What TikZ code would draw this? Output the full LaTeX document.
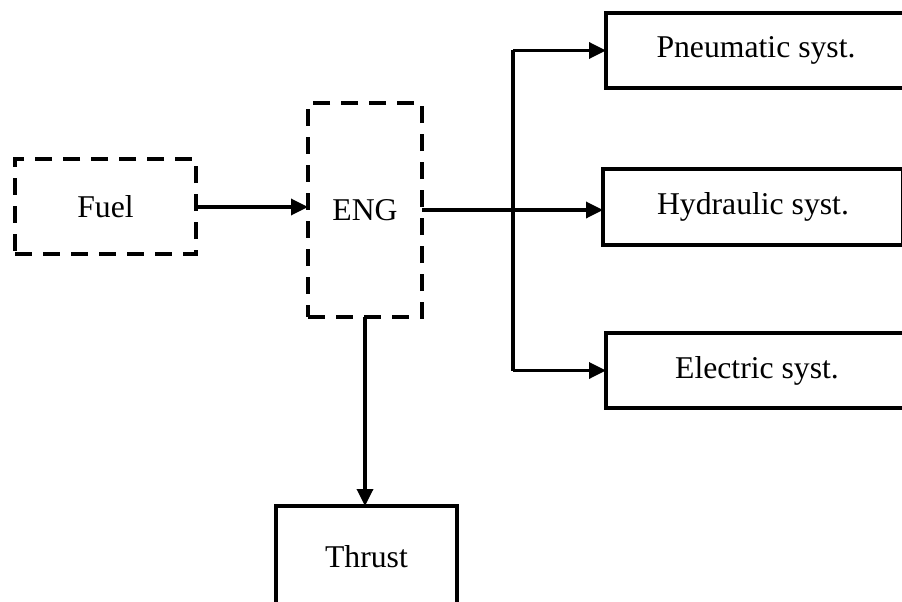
\documentclass[tikz,border=0pt]{standalone}
\usepackage{fontspec}
\setmainfont{Liberation Serif}
\usetikzlibrary{arrows.meta}
\begin{document}
\begin{tikzpicture}[x=1pt,y=-1pt,
  box/.style={draw, line width=3.6pt, minimum width=#1, inner sep=0pt, outer sep=0pt,
    font=\fontsize{31.7}{38}\selectfont},
  dbox/.style={box=#1, dash pattern=on 17pt off 11pt},
  arr/.style={line width=3.4pt, -{Triangle[length=17pt,width=16pt]}},
  ln/.style={line width=3.4pt}]
\useasboundingbox (0,0) rectangle (902,602);
\clip (0,0) rectangle (902,602);
\node[dbox=181pt, minimum height=95pt] (fuel) at (105.5,206.5) {Fuel};
\node[dbox=114pt, minimum height=214pt] (eng) at (365,210) {ENG};
\node[box=300pt, minimum height=75pt] (pneu) at (756,50.5) {Pneumatic syst.};
\node[box=300pt, minimum height=76pt] (hyd) at (753,207) {Hydraulic syst.};
\node[box=302pt, minimum height=75pt] (elec) at (757,370.5) {Electric syst.};
\node[box=181pt, minimum height=102pt] (thrust) at (366.5,557) {Thrust};
\coordinate (j) at (513,210);
\draw[arr] (fuel.east |- 0,207) -- (eng.west |- 0,207);
\draw[arr] (eng.east) -- (eng.east -| hyd.west);
\draw[arr] (eng.south) -- (eng.south |- thrust.north);
\draw[ln] (j |- pneu.west) -- (j |- elec.west);
\draw[arr] (j |- pneu.west) -- (pneu.west);
\draw[arr] (j |- elec.west) -- (elec.west);
\end{tikzpicture}
\end{document}
